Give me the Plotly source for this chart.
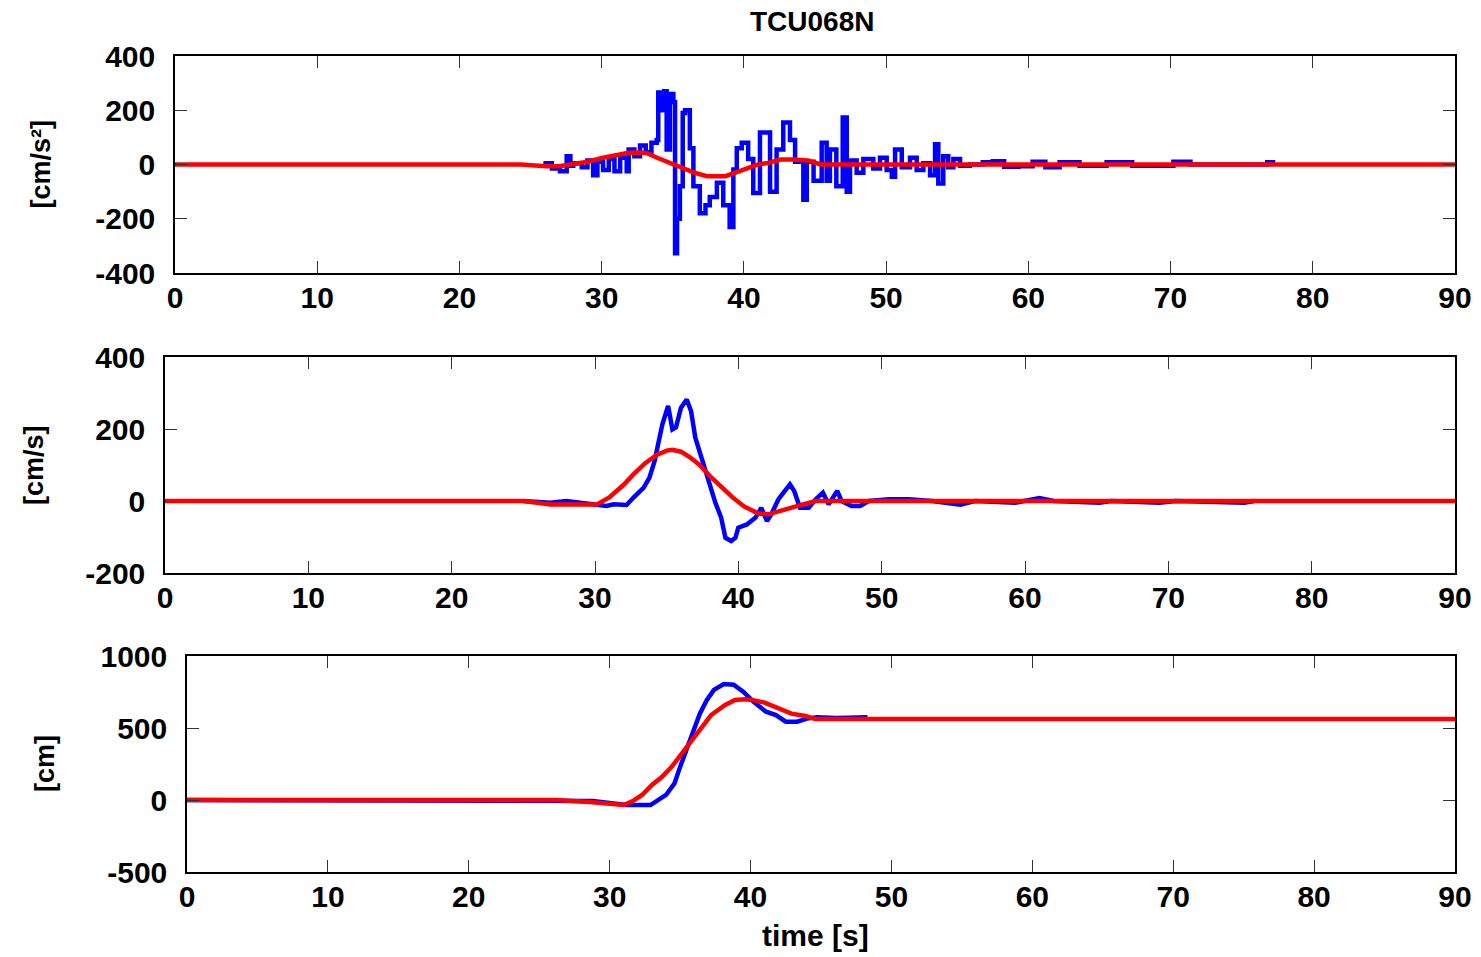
import plotly.graph_objects as go

W, H = 1481, 957

# ---------------- data ----------------
# Acceleration, recorded (blue)
acc_t = [25.9, 26.5, 27.07, 27.54, 27.8, 28.0, 28.6, 29.0, 29.4, 29.7, 30.1, 30.5, 30.9, 31.3,
         31.76, 31.9, 32.3, 32.7, 33.1, 33.5, 33.87, 33.98, 34.2, 34.4, 34.57, 34.8, 35.04, 35.16,
         35.3, 35.5, 35.7, 35.86, 36.2, 36.45, 36.9, 37.3, 37.6, 38.1, 38.55, 39.0, 39.26, 39.5,
         39.85, 40.3, 40.66, 41.13, 41.6, 41.84, 42.3, 42.77, 43.24, 43.6, 44.18, 44.42, 44.9,
         45.47, 45.82, 46.05, 46.5, 46.95, 47.23, 47.46, 47.93, 48.4, 49.1, 49.57, 50.04, 50.4,
         50.63, 51.1, 51.68, 52.15, 52.62, 53.09, 53.44, 53.67, 54.02, 54.37, 54.73, 55.2, 55.9,
         56.8, 57.5, 58.3, 59.3, 60.3, 61.2, 62.2, 63.6, 65.5, 67.3, 70.2, 70.9, 71.4, 76.5,
         76.8, 77.2]
acc_v = [5, -15, -25, 30, -5, 5, -10, 15, -40, 10, -20, 20, -25, 25,
         -25, 55, 30, 70, 45, 80, 90, 265, 200, 270, 55, 260, 230, -327,
         -200, -80, 190, 200, 60, -80, -180, -150, -120, -67, -150, -230, -18, 60,
         80, 20, -105, 118, 118, -100, 55, 155, 90, 10, -130, 10, -60,
         80, -60, 55, -80, 173, -100, 15, -30, 20, -15, 25, -20, -45,
         55, -10, 25, -20, 5, -40, 75, -70, 30, -10, 20, -5, 0,
         8, 12, -8, -6, 10, -10, 8, -5, 8, -5, 10, 10, 0, 0,
         8, 0]

# Acceleration, fitted (red)
accf_t = [0, 24.3, 26.1, 27.0, 27.8, 29.0, 30.1, 31.0, 31.9, 32.6, 33.2, 33.9, 34.5, 35.1, 35.8,
          36.5, 37.4, 38.0, 38.7, 39.5, 40.3, 41.0, 41.7, 42.6, 43.5, 44.5, 45.4, 90]
accf_v = [0, 0, -6, -6, 0, 10, 25, 35, 43, 44, 42, 25, 12, 0, -15,
          -30, -43, -44, -43, -28, -12, 0, 6, 18, 18, 15, 0, 0]

# Velocity, recorded (blue)
vel_t = [25.0, 26.86, 28.0, 29.6, 30.8, 31.3, 32.2, 32.67, 33.4, 33.8, 34.16, 34.4, 34.7, 35.1,
         35.4, 35.65, 36.0, 36.4, 36.7, 37.0, 37.5, 38.0, 38.4, 38.8, 39.1, 39.5, 39.8, 40.0,
         40.6, 41.2, 41.6, 42.0, 42.3, 42.8, 43.3, 43.6, 43.9, 44.3, 44.9, 45.4, 45.9, 46.3,
         46.9, 47.2, 47.9, 48.5, 49.1, 50.5, 51.9, 53.5, 55.5, 56.5, 59.3, 61.0, 62.0, 65.2,
         66.0, 69.4, 70.5, 75.3, 76.0]
vel_v = [0, -5, 0, -7, -14, -9, -11, 9, 37, 65, 111, 157, 213, 264,
         199, 205, 259, 282, 250, 176, 111, 56, -5, -46, -102, -111, -102, -74,
         -65, -46, -19, -56, -37, 5, 28, 46, 28, -19, -19, 5, 23, -9,
         28, 0, -14, -14, 0, 5, 5, 0, -10, 0, -5, 8, 0, -5,
         0, -5, 0, -5, 0]

# Velocity, fitted (red)
velf_t = [0, 25.0, 26.9, 30.1, 31.0, 32.0, 32.7, 33.5, 34.3, 35.0, 35.4, 36.0, 36.6, 37.3,
          38.0, 38.8, 39.6, 40.4, 41.4, 42.1, 43.0, 44.2, 45.4, 90]
velf_v = [0, 0, -10, -10, 10, 45, 75, 105, 128, 140, 142, 137, 122, 100,
          70, 40, 10, -15, -35, -37, -28, -13, 0, 0]

# Displacement, recorded (blue)
dis_t = [0, 26.2, 28.8, 31.2, 32.9, 34.0, 34.6, 35.0, 35.5, 35.9, 36.4, 36.9, 37.4, 38.1, 38.8,
         39.5, 40.2, 41.1, 41.8, 42.5, 43.3, 44.0, 44.7, 46.1, 48.3]
dis_v = [0, 0, -7, -35, -35, 35, 115, 230, 370, 465, 600, 695, 765, 805, 800,
         750, 683, 613, 590, 544, 544, 565, 574, 570, 575]

# Displacement, fitted (red)
disf_t = [0, 26.2, 28.8, 31.0, 31.6, 32.3, 33.0, 33.7, 34.4, 35.3, 36.3, 37.2, 38.2, 38.9,
          39.6, 40.1, 41.0, 42.0, 42.9, 43.9, 44.6, 90]
disf_v = [0, 0, -15, -35, -10, 35, 105, 160, 230, 347, 486, 590, 660, 695,
          700, 695, 676, 640, 600, 583, 562, 562]

x_ticks = [0, 10, 20, 30, 40, 50, 60, 70, 80, 90]
acc_ticks = [-400, -200, 0, 200, 400]
vel_ticks = [-200, 0, 200, 400]
dis_ticks = [-500, 0, 500, 1000]

title_text = "TCU068N"
ylabels = ["[cm/s²]", "[cm/s]", "[cm]"]
xlabel = "time [s]"

# ---------------- layout geometry (pixels) ----------------
panels = [
    dict(x0=175, x1=1455, y0=56, y1=273, ticks=acc_ticks, rng=[-400, 400], lab_x=40),
    dict(x0=165, x1=1455, y0=357, y1=573, ticks=vel_ticks, rng=[-200, 400], lab_x=34),
    dict(x0=187, x1=1455, y0=656, y1=872, ticks=dis_ticks, rng=[-500, 1000], lab_x=45),
]

FONT = "Liberation Sans, Arial, sans-serif"
BLUE = "#0000FF"
RED = "#FF0000"

fig = go.Figure()
series = [(acc_t, acc_v, accf_t, accf_v, "hv"),
          (vel_t, vel_v, velf_t, velf_v, "linear"),
          (dis_t, dis_v, disf_t, disf_v, "linear")]

for i, (bt, bv, rt, rv, shp) in enumerate(series):
    xa = "x" if i == 0 else f"x{i+1}"
    ya = "y" if i == 0 else f"y{i+1}"
    fig.add_trace(go.Scatter(x=bt, y=bv, mode="lines", line=dict(color=BLUE, width=4.5, shape=shp),
                             xaxis=xa, yaxis=ya, showlegend=False, hoverinfo="skip"))
    fig.add_trace(go.Scatter(x=rt, y=rv, mode="lines", line=dict(color=RED, width=4.5),
                             xaxis=xa, yaxis=ya, showlegend=False, hoverinfo="skip"))

layout = dict(width=W, height=H, margin=dict(l=0, r=0, t=0, b=0, autoexpand=False),
              template="none",
              plot_bgcolor="white", paper_bgcolor="white", showlegend=False)

tickfont = dict(family=FONT, size=30, color="black", weight="bold")
annotations = []
for i, p in enumerate(panels):
    xk = "xaxis" if i == 0 else f"xaxis{i+1}"
    yk = "yaxis" if i == 0 else f"yaxis{i+1}"
    yref = "y" if i == 0 else f"y{i+1}"
    xref = "x" if i == 0 else f"x{i+1}"
    layout[xk] = dict(domain=[p["x0"] / W, p["x1"] / W], range=[0, 90], anchor=yref,
                      tickmode="array", tickvals=x_ticks, ticktext=[str(v) for v in x_ticks],
                      ticks="inside", ticklen=12, tickwidth=1, tickcolor="#333",
                      showline=True, linecolor="black", linewidth=1.5, mirror="ticks",
                      showgrid=False, zeroline=False, tickfont=tickfont, ticklabelstandoff=-3,
                      automargin=False)
    layout[yk] = dict(domain=[1 - p["y1"] / H, 1 - p["y0"] / H], range=p["rng"], anchor=xref,
                      tickmode="array", tickvals=p["ticks"], ticktext=[str(v) for v in p["ticks"]],
                      ticks="inside", ticklen=12, tickwidth=1, tickcolor="#333",
                      showline=True, linecolor="black", linewidth=1.5, mirror="ticks",
                      showgrid=False, zeroline=False, tickfont=tickfont, ticklabelstandoff=12,
                      automargin=False)
    annotations.append(dict(text=ylabels[i], x=p["lab_x"] / W, y=1 - (p["y0"] + p["y1"]) / 2 / H,
                            xref="paper", yref="paper", showarrow=False, textangle=-90,
                            xanchor="center", yanchor="middle",
                            font=dict(family=FONT, size=27, color="black", weight="bold")))

annotations.append(dict(text=title_text, x=812 / W, y=1 - 22 / H, xref="paper", yref="paper",
                        showarrow=False, xanchor="center", yanchor="middle",
                        font=dict(family=FONT, size=28, color="black", weight="bold")))
annotations.append(dict(text=xlabel, x=815 / W, y=1 - 935 / H, xref="paper", yref="paper",
                        showarrow=False, xanchor="center", yanchor="middle",
                        font=dict(family=FONT, size=30, color="black", weight="bold")))
layout["annotations"] = annotations

fig.update_layout(**layout)
fig.write_html("out.html")
